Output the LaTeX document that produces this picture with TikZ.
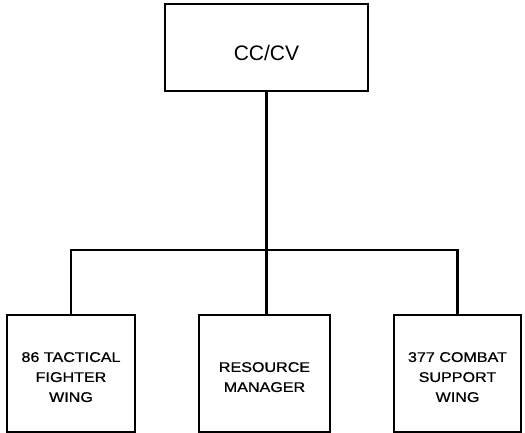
\documentclass[tikz,border=0pt]{standalone}
\usepackage{fontspec}
\setmainfont{Liberation Sans}
\newfontfamily\widesf{Liberation Sans}[FakeStretch=1.15,FakeBold=0.8]
\newcommand{\padtop}[1]{\rule{0pt}{#1}}
\usetikzlibrary{calc}

\begin{document}
\begin{tikzpicture}[x=1pt,y=-1pt]
    % `unit' is used for every box of the chart.
    % `link' is used for the heavy lines between the boxes.
    \tikzstyle{unit} = [draw,line width=1.2pt,fill=white,inner sep=0pt,align=center]
    \tikzstyle{topunit} = [unit,minimum width=203pt,minimum height=87pt,font=\fontsize{21}{25}\selectfont]
    \tikzstyle{lowunit} = [unit,minimum height=117pt,font=\widesf\fontsize{14}{20}\selectfont]
    \tikzstyle{link} = [line width=2.8pt,line cap=rect]
    %
    \useasboundingbox (0,0) rectangle (525,433);
    \node[topunit] (cc) at (266.5,47.5) {\padtop{25.5pt}CC/CV};
    \node[lowunit,minimum width=128pt] (tfw) at (71,373.5) {\padtop{17pt}86 TACTICAL\\FIGHTER\\WING};
    \node[lowunit,minimum width=131pt] (rm) at (264.5,373.5) {\padtop{17pt}RESOURCE\\MANAGER};
    \node[lowunit,minimum width=127pt] (csw) at (457.5,373.5) {\padtop{17pt}377 COMBAT\\SUPPORT\\WING};
    %
    % Draw lines.
    \coordinate (bar) at (266.5,250);
    \draw[link] (cc.south) -- (bar);
    \draw[link] (tfw.north) -- (tfw.north |- bar) -- (csw.north |- bar) -- (csw.north);
    \draw[link] (bar) -- (bar |- rm.north);
\end{tikzpicture}
\end{document}
